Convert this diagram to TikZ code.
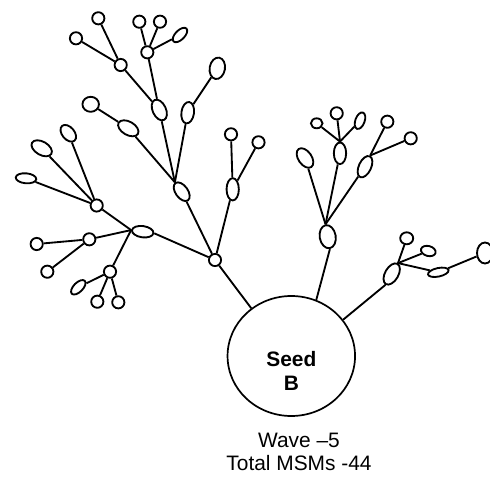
\documentclass[tikz,border=0pt]{standalone}
\usepackage{fontspec}
\setmainfont{Liberation Sans}
\usetikzlibrary{shapes.geometric}
\tikzset{
  conn/.style={line width=1.85pt},
  dot/.style={circle, draw, line width=1.85pt, minimum size=12.2pt, inner sep=0pt},
  ov/.style={ellipse, draw, line width=1.85pt, inner sep=0pt},
  lbl/.style={align=center, inner sep=0pt, font=\fontsize{20.9}{24}\selectfont},
}
\begin{document}
\begin{tikzpicture}[x=1pt,y=-1pt]
\useasboundingbox (0,0) rectangle (490,479);
% seed
\node[ellipse, draw, line width=1.7pt, minimum width=127.5pt, minimum height=120pt, inner sep=0pt] (seed) at (291.3,356) {};
\node[lbl, font=\fontsize{20.9}{24}\selectfont\bfseries] (seedtxt) at (291.3,371) {Seed\\B};
\node[lbl, font=\fontsize{20.9}{23}\selectfont] (caption) at (299,451.5) {Wave –5\\Total MSMs -44};
% level 1
\node[dot] (hub1) at (215,260) {};
\node[ov, minimum width=16pt, minimum height=23.3pt, rotate=10] (A) at (327.7,236.7) {};
\node[ov, minimum width=13.3pt, minimum height=23.3pt, rotate=-30] (B) at (391.7,274) {};
% hub1 children
\node[ov, minimum width=21.3pt, minimum height=12.3pt, rotate=-54] (C) at (181.7,191.7) {};
\node[ov, minimum width=21.6pt, minimum height=11.3pt, rotate=-8] (D) at (142.7,231.7) {};
\node[ov, minimum width=12.3pt, minimum height=22.3pt] (E) at (232.7,189.3) {};
\node[dot] (e1) at (231,134.3) {};
\node[dot] (e2) at (258.5,142.3) {};
% C subtree
\node[ov, minimum width=13.3pt, minimum height=22pt, rotate=25] (c1) at (159.3,110) {};
\node[ov, minimum width=12.6pt, minimum height=21.6pt, rotate=-8] (c2) at (187.7,112.7) {};
\node[ov, minimum width=22.3pt, minimum height=13.3pt, rotate=-30] (c3) at (128.3,128.3) {};
\node[ov, minimum width=16.5pt, minimum height=15pt] (c31) at (90.7,104.3) {};
\node[ov, minimum width=15.3pt, minimum height=21.6pt, rotate=-10] (c21) at (217.3,68.3) {};
\node[dot] (c11) at (120.7,65) {};
\node[dot] (c12) at (147.3,52.3) {};
\node[dot] (c111) at (98.3,18.3) {};
\node[dot] (c112) at (76,38.3) {};
\node[dot] (c121) at (139.3,21.7) {};
\node[dot] (c122) at (160,21.7) {};
\node[ov, minimum width=18.3pt, minimum height=9.3pt, rotate=45] (c123) at (180,35) {};
% D subtree
\node[dot] (d1) at (96.7,205.5) {};
\node[dot] (d2) at (89.3,239.3) {};
\node[dot] (d3) at (110,271.7) {};
\node[ov, minimum width=12.3pt, minimum height=19.3pt, rotate=40] (d11) at (68.3,133.3) {};
\node[ov, minimum width=22.3pt, minimum height=13.3pt, rotate=-30] (d12) at (41.7,148.3) {};
\node[ov, minimum width=20.6pt, minimum height=10pt, rotate=-5] (d13) at (26,178.3) {};
\node[dot] (d21) at (36.7,244) {};
\node[dot] (d22) at (47.3,271.7) {};
\node[ov, minimum width=18.3pt, minimum height=9.3pt, rotate=45] (d31) at (78.3,287.3) {};
\node[dot] (d32) at (97.3,301.7) {};
\node[dot] (d33) at (118.3,302.3) {};
% A subtree
\node[ov, minimum width=13.3pt, minimum height=22pt, rotate=35] (a1) at (305,158) {};
\node[ov, minimum width=12.3pt, minimum height=21.6pt] (a2) at (340,153.3) {};
\node[ov, minimum width=12.3pt, minimum height=22.9pt, rotate=-25] (a3) at (365,166.7) {};
\node[ov, minimum width=11.6pt, minimum height=10pt] (a21) at (316.7,123.3) {};
\node[dot] (a22) at (336.7,113.3) {};
\node[ov, minimum width=9.3pt, minimum height=17.3pt, rotate=-20] (a23) at (360,120.7) {};
\node[dot] (a31) at (387.3,121.7) {};
\node[dot] (a32) at (410.7,138.3) {};
% B subtree
\node[ov, minimum width=13pt, minimum height=12pt] (b1) at (406.7,238.3) {};
\node[ov, minimum width=15pt, minimum height=10pt, rotate=-15] (b2) at (428.3,251) {};
\node[ov, minimum width=21pt, minimum height=8.5pt, rotate=12] (b3) at (438.3,272.3) {};
\node[ov, minimum width=16pt, minimum height=21pt] (b4) at (485,253) {};
% connectors
\draw[conn] (hub1) -- (seed.130);
\draw[conn] (A.south) -- (seed.66);
\draw[conn] (B.south) -- (seed.35);
\draw[conn] (C) -- (hub1);
\draw[conn] (D.east) -- (hub1);
\draw[conn] (E) -- (hub1);
\draw[conn] (e1) -- (E);
\draw[conn] (e2) -- (E);
\draw[conn] (c1) -- (C.west);
\draw[conn] (c2) -- (C.west);
\draw[conn] (c3) -- (C.west);
\draw[conn] (c31) -- (c3);
\draw[conn] (c21) -- (c2);
\draw[conn] (c11) -- (c1);
\draw[conn] (c12) -- (c1);
\draw[conn] (c111) -- (c11);
\draw[conn] (c112) -- (c11);
\draw[conn] (c121) -- (c12);
\draw[conn] (c122) -- (c12);
\draw[conn] (c123) -- (c12);
\draw[conn] (d1) -- (D.west);
\draw[conn] (d2) -- (D.west);
\draw[conn] (d3) -- (D.west);
\draw[conn] (d11) -- (d1);
\draw[conn] (d12) -- (d1);
\draw[conn] (d13) -- (d1);
\draw[conn] (d21) -- (d2);
\draw[conn] (d22) -- (d2);
\draw[conn] (d31) -- (d3);
\draw[conn] (d32) -- (d3);
\draw[conn] (d33) -- (d3);
\draw[conn] (a1) -- (A.north);
\draw[conn] (a2) -- (A.north);
\draw[conn] (a3) -- (A.north);
\draw[conn] (a21) -- (a2.north);
\draw[conn] (a22) -- (a2.north);
\draw[conn] (a23) -- (a2.north);
\draw[conn] (a31) -- (a3.north);
\draw[conn] (a32) -- (a3.north);
\draw[conn] (b1) -- (B.north);
\draw[conn] (b2) -- (B.north);
\draw[conn] (b3) -- (B.north);
\draw[conn] (b4) -- (b3);
\end{tikzpicture}
\end{document}
